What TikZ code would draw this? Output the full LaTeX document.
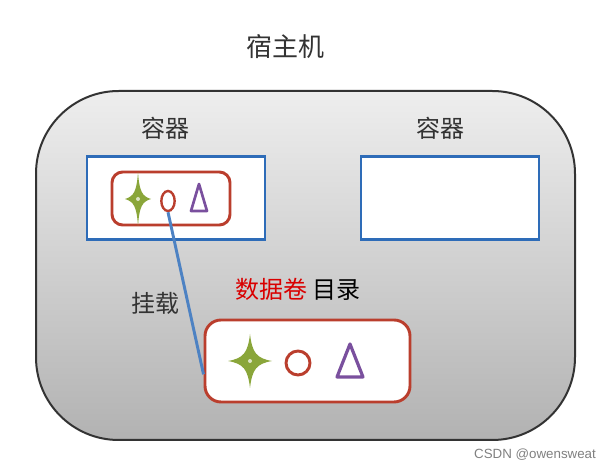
\documentclass[tikz,border=0pt]{standalone}
\usepackage{fontspec}
\newfontfamily\cjk{Noto Sans CJK SC}
\setsansfont{Liberation Sans}
\usetikzlibrary{shapes.geometric}

\definecolor{hostgrey}{RGB}{238,238,238}
\definecolor{hostdark}{RGB}{178,178,178}
\definecolor{boxblue}{RGB}{46,108,184}
\definecolor{boxred}{RGB}{186,62,45}
\definecolor{stargreen}{RGB}{138,166,58}
\definecolor{tripurple}{RGB}{122,80,158}

\tikzset{every picture/.style={line width=0.75pt}}
\tikzset{
  cbox/.style={draw=boxblue,line width=2.2pt,fill=white,minimum width=178*0.75pt,minimum height=83*0.75pt,inner sep=0pt},
  dbox/.style={draw=boxred,line width=2.2pt,fill=white,rounded corners=#1,inner sep=0pt},
  label/.style={inner sep=0.75pt,font=\cjk\fontsize{18}{21}\selectfont,text=black!80},
  mark/.style={draw=boxred,line width=#1,ellipse,inner sep=0pt},
}
\newcommand{\starshape}[4]{% x, y, half width, half height
  \begin{scope}[shift={(#1,#2)}]
  \fill[stargreen] (0,-#4) .. controls (0.1*#3,-0.3*#4) and (0.3*#3,-0.1*#4) .. (#3,0)
    .. controls (0.3*#3,0.1*#4) and (0.1*#3,0.3*#4) .. (0,#4)
    .. controls (-0.1*#3,0.3*#4) and (-0.3*#3,0.1*#4) .. (-#3,0)
    .. controls (-0.3*#3,-0.1*#4) and (-0.1*#3,-0.3*#4) .. (0,-#4) -- cycle;
  \fill[white,opacity=0.7] (0,0) circle (2);
  \end{scope}
}

\begin{document}
\begin{tikzpicture}[x=0.75pt,y=0.75pt,yscale=-1,xscale=1]
\path (0,0) rectangle (615,470); %set diagram size

% Host machine
\shade[top color=hostgrey,bottom color=hostdark,draw=black!80,line width=1.5pt,rounded corners=62] (36,91) rectangle (575,440);
\node (host) at (285,47) [label,font=\cjk\fontsize{19.5}{22}\selectfont] {宿主机};

% Containers
\node (c1) at (176,198) [cbox] {};
\node (c2) at (450,198) [cbox] {};
\node (c1lbl) at (165,128) [label] {容器};
\node (c2lbl) at (440,128) [label] {容器};

% Directory inside container
\node (d1) at (171,198.5) [dbox=8pt,minimum width=118*0.75pt,minimum height=53*0.75pt] {};
\starshape{138}{199}{13}{27}
\node (o1) at (168,201) [mark=1.8pt,minimum width=10pt,minimum height=15pt] {};
\draw[tripurple,line width=2pt,line join=round] (199,184) -- (207,211) -- (191,211) -- cycle;

% Volume directory
\node (vol) at (307.5,361) [dbox=12pt,minimum width=205*0.75pt,minimum height=82*0.75pt] {};
\starshape{250}{361}{22}{27}
\node (o2) at (298,363) [mark=2.2pt,minimum width=18pt,minimum height=18pt] {};
\draw[tripurple,line width=2.4pt,line join=round] (350,344) -- (363,377) -- (337,377) -- cycle;

% Mount line
\draw[boxblue!85!white,line width=2.2pt] (o1.south) -- ([yshift=10pt]vol.west);

% Text Node
\node (mnt) at (155,303) [label] {挂载};
\node (vname) at (298,289) [label,text=black] {\textcolor{red!85!black}{数据卷} 目录};
\node (csdn) at (535,455) [inner sep=0.75pt,font=\sffamily\fontsize{10}{12}\selectfont,text=black!50] {CSDN @owensweat};

\end{tikzpicture}
\end{document}
